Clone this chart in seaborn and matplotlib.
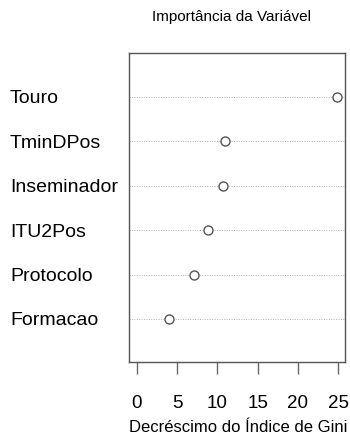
import matplotlib
matplotlib.use("Agg")
import matplotlib.pyplot as plt
import seaborn as sns
import pandas as pd

variables = ["Touro", "TminDPos", "Inseminador", "ITU2Pos", "Protocolo", "Formacao"]
importance = [24.9, 10.9, 10.7, 8.8, 7.05, 3.95]
xticks = [0, 5, 10, 15, 20, 25]
title = "Importância da Variável"
xlabel = "Decréscimo do Índice de Gini"

sns.set_theme(style="white")
plt.rcParams["font.family"] = ["Liberation Sans", "DejaVu Sans"]

df = pd.DataFrame({"var": variables, "imp": importance})

fig = plt.figure(figsize=(3.5, 4.46), dpi=100)
ax = fig.add_axes([129/350, 1-362/446, (345-129)/350, (362-53)/446])

sns.stripplot(data=df, x="imp", y="var", order=variables, jitter=False,
              marker="o", size=6.5, facecolor="white", edgecolor="#555555",
              linewidth=1.0, ax=ax, zorder=3)

ax.yaxis.grid(True, linestyle=(0, (1, 1.5)), color="#b0b0b0", linewidth=0.7)
ax.xaxis.grid(False)
ax.set_axisbelow(True)

ax.set_xlim(-0.99, 25.85)
ax.set_ylim(5.97, -0.99)
ax.set_xticks(xticks)
ax.set_xticklabels([str(t) for t in xticks], fontsize=13.5, color="#000000")
ax.set_xlabel("")
ax.set_ylabel("")
for lab in ax.get_yticklabels():
    lab.set_horizontalalignment("left")
    lab.set_fontsize(14)
    lab.set_color("#000000")
ax.tick_params(axis="y", length=0, pad=(129-10)*72/100)
ax.tick_params(axis="x", bottom=True, length=8.5, width=1.0, color="#666666", pad=15)

for s in ax.spines.values():
    s.set_color("#555555")
    s.set_linewidth(1.0)

fig.text(232/350, 1-17/446, title, ha="center", va="center", fontsize=11, color="#000000")
fig.text(238/350, 1-427/446, xlabel, ha="center", va="center", fontsize=12, color="#000000")

fig.savefig("out.png", dpi=100)
